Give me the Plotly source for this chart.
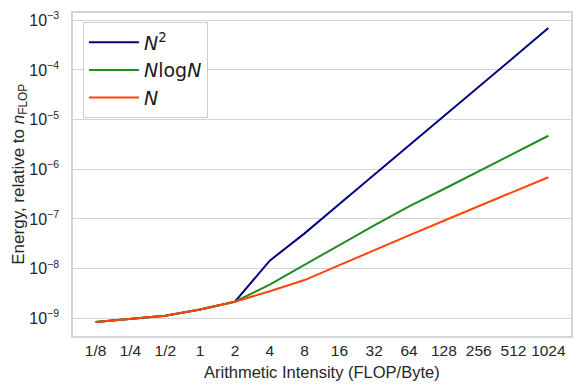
import plotly.graph_objects as go

intensity = ["1/8", "1/4", "1/2", "1", "2", "4", "8", "16", "32", "64", "128", "256", "512", "1024"]

energy_n2 = [8.41e-10, 9.82e-10, 1.127e-9, 1.51e-9, 2.16e-9, 1.45e-8, 5.13e-8, 2.0e-7,
             7.76e-7, 2.95e-6, 1.175e-5, 4.57e-5, 1.78e-4, 7.0e-4]
energy_nlogn = [8.41e-10, 9.82e-10, 1.127e-9, 1.51e-9, 2.16e-9, 4.79e-9, 1.175e-8, 2.99e-8,
                7.45e-8, 1.80e-7, 4.01e-7, 9.12e-7, 2.09e-6, 4.74e-6]
energy_n = [8.41e-10, 9.82e-10, 1.127e-9, 1.51e-9, 2.16e-9, 3.50e-9, 5.89e-9, 1.175e-8,
            2.37e-8, 4.68e-8, 9.23e-8, 1.82e-7, 3.55e-7, 6.92e-7]

y_exponents = [-9, -8, -7, -6, -5, -4, -3]

series = [
    ("<i>N</i><sup>2</sup>", energy_n2, "#000080"),
    ("<i>N</i>log<i>N</i>", energy_nlogn, "#228b22"),
    ("<i>N</i>", energy_n, "#ff4500"),
]

fig = go.Figure()
for name, vals, col in series:
    fig.add_trace(go.Scatter(x=intensity, y=vals, name=name, mode="lines",
                             line=dict(color=col, width=2)))

tickvals = [10.0 ** e for e in y_exponents]
ticktext = ["10<sup><span style='font-size:10.5px'>\u2212%d</span></sup>" % -e for e in y_exponents]

grid = "#d4d4d4"
fig.update_layout(
    width=581, height=391,
    margin=dict(l=73, r=10, t=13, b=55),
    paper_bgcolor="white", plot_bgcolor="white",
    font=dict(family="Liberation Sans, Arial, sans-serif", size=15, color="#262626"),
    showlegend=True,
    legend=dict(x=0.02, y=0.971, xanchor="left", yanchor="top",
                bgcolor="white", bordercolor="#cccccc", borderwidth=1,
                itemwidth=50,
                font=dict(family="DejaVu Sans", size=19, color="#1a1a1a")),
    xaxis=dict(
        type="category", range=[-0.65, 13.65], automargin=False,
        showgrid=False, showline=True, linecolor=grid, linewidth=1.5, mirror=True,
        ticks="", ticklabelstandoff=0, tickfont=dict(size=15.5),
    ),
    yaxis=dict(
        type="log", range=[-9.356, -2.853], automargin=False,
        tickmode="array", tickvals=tickvals, ticktext=ticktext,
        showgrid=True, gridcolor=grid, gridwidth=1,
        showline=True, linecolor=grid, linewidth=1.5, mirror=True,
        ticks="", ticklabelstandoff=9, zeroline=False, tickfont=dict(size=16),
    ),
)

# axis titles as annotations so they sit where the original had them
fig.add_annotation(text="Energy, relative to <i>n</i><sub>FLOP</sub>",
                   xref="paper", yref="paper", x=-0.108, y=0.5,
                   xanchor="center", yanchor="middle", textangle=-90,
                   showarrow=False, font=dict(size=17))
fig.add_annotation(text="Arithmetic Intensity (FLOP/Byte)",
                   xref="paper", yref="paper", x=0.5, y=-0.11,
                   xanchor="center", yanchor="middle",
                   showarrow=False, font=dict(size=16.5))

# the page's default body margin would shift the whole figure
fig.write_html("out.html", config={"displayModeBar": False},
               post_script="document.body.style.margin='0px';")
